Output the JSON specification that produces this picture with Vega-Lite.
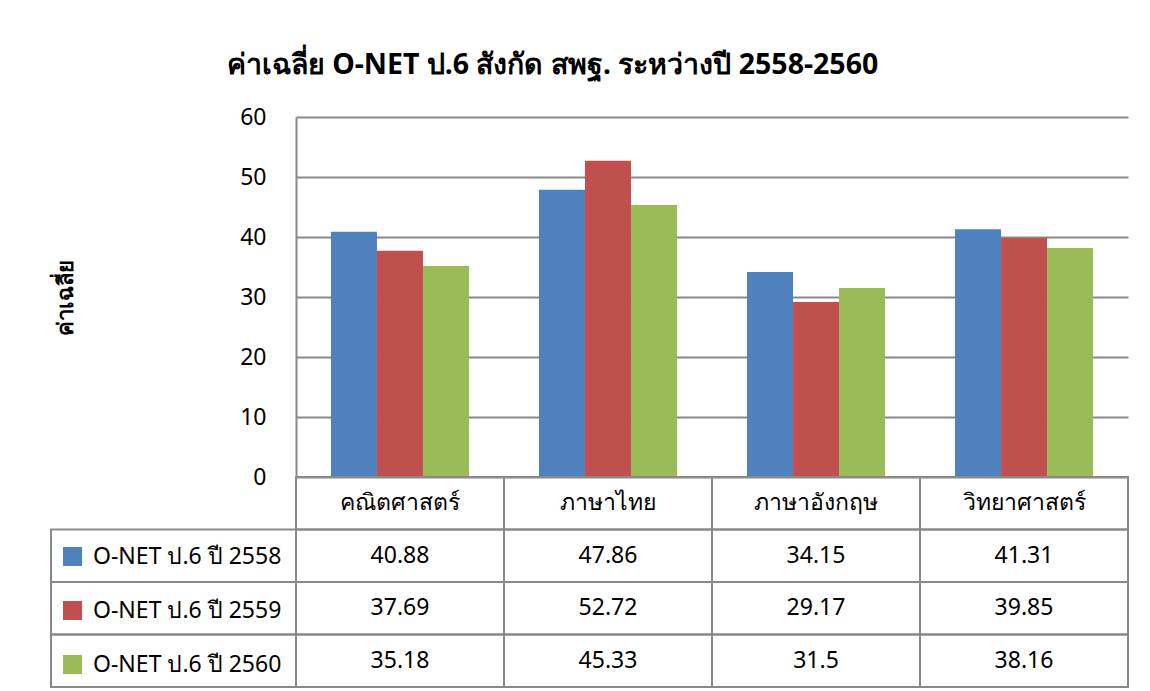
{
  "$schema": "https://vega.github.io/schema/vega-lite/v6.json",
  "background": "white",
  "padding": {"left": 50, "top": 50, "right": 10, "bottom": 5},
  "title": {
    "text": "ค่าเฉลี่ย O-NET ป.6 สังกัด สพฐ. ระหว่างปี 2558-2560",
    "fontSize": 28.5,
    "fontWeight": "bold",
    "color": "black",
    "anchor": "middle",
    "dx": -37,
    "offset": 27
  },
  "datasets": {
    "scores": [
      {"category": "คณิตศาสตร์", "series": "O-NET ป.6 ปี 2558", "value": 40.88},
      {"category": "คณิตศาสตร์", "series": "O-NET ป.6 ปี 2559", "value": 37.69},
      {"category": "คณิตศาสตร์", "series": "O-NET ป.6 ปี 2560", "value": 35.18},
      {"category": "ภาษาไทย", "series": "O-NET ป.6 ปี 2558", "value": 47.86},
      {"category": "ภาษาไทย", "series": "O-NET ป.6 ปี 2559", "value": 52.72},
      {"category": "ภาษาไทย", "series": "O-NET ป.6 ปี 2560", "value": 45.33},
      {"category": "ภาษาอังกฤษ", "series": "O-NET ป.6 ปี 2558", "value": 34.15},
      {"category": "ภาษาอังกฤษ", "series": "O-NET ป.6 ปี 2559", "value": 29.17},
      {"category": "ภาษาอังกฤษ", "series": "O-NET ป.6 ปี 2560", "value": 31.5},
      {"category": "วิทยาศาสตร์", "series": "O-NET ป.6 ปี 2558", "value": 41.31},
      {"category": "วิทยาศาสตร์", "series": "O-NET ป.6 ปี 2559", "value": 39.85},
      {"category": "วิทยาศาสตร์", "series": "O-NET ป.6 ปี 2560", "value": 38.16}
    ]
  },
  "columns": 2,
  "spacing": 0,
  "bounds": "flush",
  "concat": [
    {
      "width": 245,
      "height": 360,
      "data": {"values": [{}]},
      "mark": {"type": "text"},
      "encoding": {"text": {"value": ""}}
    },
    {
      "width": 832,
      "height": 360,
      "data": {"name": "scores"},
      "mark": {"type": "bar"},
      "encoding": {
        "x": {
          "field": "category",
          "type": "nominal",
          "sort": ["คณิตศาสตร์", "ภาษาไทย", "ภาษาอังกฤษ", "วิทยาศาสตร์"],
          "scale": {"paddingInner": 0.3365, "paddingOuter": 0.168},
          "axis": null
        },
        "xOffset": {
          "field": "series",
          "type": "nominal",
          "sort": ["O-NET ป.6 ปี 2558", "O-NET ป.6 ปี 2559", "O-NET ป.6 ปี 2560"],
          "scale": {"paddingInner": 0, "paddingOuter": 0}
        },
        "y": {
          "field": "value",
          "type": "quantitative",
          "scale": {"domain": [0, 60], "nice": false},
          "axis": {
            "values": [0, 10, 20, 30, 40, 50, 60],
            "title": "ค่าเฉลี่ย",
            "titleFontSize": 22,
            "titleFontWeight": "bold",
            "titleColor": "black",
            "titlePadding": 162,
            "labelFontSize": 23,
            "labelColor": "black",
            "labelPadding": 30,
            "ticks": false,
            "domain": true,
            "domainColor": "#898989",
            "domainWidth": 2,
            "grid": true,
            "gridColor": "#898989",
            "gridWidth": 2
          }
        },
        "color": {
          "field": "series",
          "type": "nominal",
          "scale": {
            "domain": ["O-NET ป.6 ปี 2558", "O-NET ป.6 ปี 2559", "O-NET ป.6 ปี 2560"],
            "range": ["#4F81BD", "#C0504D", "#9BBB59"]
          },
          "legend": null
        }
      }
    },
    {
      "width": 245,
      "height": 210,
      "data": {"name": "scores"},
      "encoding": {
        "y": {
          "field": "series",
          "type": "nominal",
          "scale": {
            "domain": ["H", "O-NET ป.6 ปี 2558", "O-NET ป.6 ปี 2559", "O-NET ป.6 ปี 2560"],
            "paddingInner": 0,
            "paddingOuter": 0
          },
          "axis": null
        }
      },
      "layer": [
        {
          "transform": [{"aggregate": [{"op": "count", "as": "n"}], "groupby": ["series"]}],
          "mark": {"type": "rect", "fill": "transparent", "stroke": "#898989", "strokeWidth": 2}
        },
        {
          "mark": {"type": "square", "opacity": 0},
          "encoding": {
            "color": {
              "field": "series",
              "type": "nominal",
              "scale": {
                "domain": ["O-NET ป.6 ปี 2558", "O-NET ป.6 ปี 2559", "O-NET ป.6 ปี 2560"],
                "range": ["#4F81BD", "#C0504D", "#9BBB59"]
              },
              "legend": {
                "orient": "none",
                "legendX": 10,
                "legendY": 68,
                "title": null,
                "padding": 0,
                "symbolType": "square",
                "symbolSize": 361,
                "symbolOpacity": 1,
                "symbolStrokeWidth": 0,
                "labelFontSize": 23,
                "labelColor": "black",
                "labelOffset": 9,
                "labelLimit": 400,
                "rowPadding": 30
              }
            }
          }
        }
      ]
    },
    {
      "width": 832,
      "height": 210,
      "data": {"name": "scores"},
      "encoding": {
        "x": {
          "field": "category",
          "type": "nominal",
          "sort": ["คณิตศาสตร์", "ภาษาไทย", "ภาษาอังกฤษ", "วิทยาศาสตร์"],
          "scale": {"paddingInner": 0, "paddingOuter": 0},
          "axis": null
        }
      },
      "layer": [
        {
          "transform": [{"aggregate": [{"op": "count", "as": "n"}], "groupby": ["category"]}],
          "mark": {"type": "rect", "fill": "transparent", "stroke": "#898989", "strokeWidth": 2},
          "encoding": {"y": {"datum": "H", "type": "nominal", "scale": {"domain": ["H", "O-NET ป.6 ปี 2558", "O-NET ป.6 ปี 2559", "O-NET ป.6 ปี 2560"], "paddingInner": 0, "paddingOuter": 0}, "axis": null}}
        },
        {
          "transform": [{"aggregate": [{"op": "count", "as": "n"}], "groupby": ["category"]}],
          "mark": {"type": "text", "fontSize": 23, "color": "black", "baseline": "middle", "align": "center"},
          "encoding": {
            "y": {"datum": "H", "type": "nominal"},
            "text": {"field": "category", "type": "nominal"}
          }
        },
        {
          "mark": {"type": "rect", "fill": "transparent", "stroke": "#898989", "strokeWidth": 2},
          "encoding": {"y": {"field": "series", "type": "nominal"}}
        },
        {
          "mark": {"type": "text", "fontSize": 23, "color": "black", "baseline": "middle", "align": "center"},
          "encoding": {
            "y": {"field": "series", "type": "nominal"},
            "text": {"field": "value", "type": "nominal"}
          }
        }
      ]
    }
  ],
  "resolve": {"scale": {"color": "independent", "x": "independent", "y": "independent"}},
  "config": {
    "view": {"stroke": null},
    "font": "Noto Sans"
  }
}
